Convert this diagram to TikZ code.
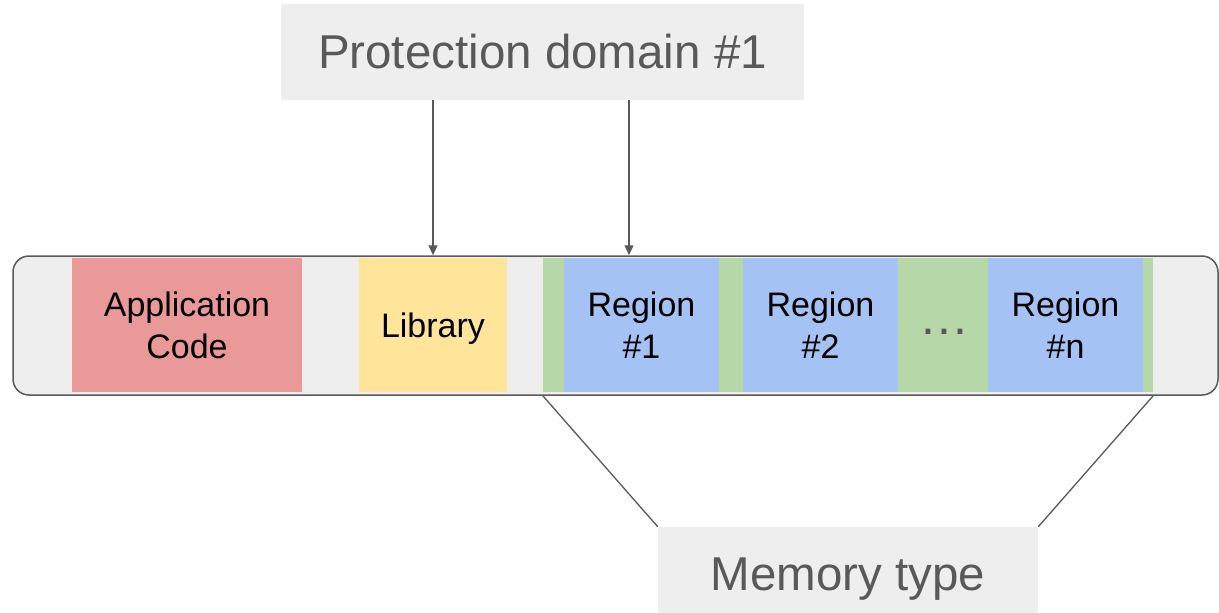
\documentclass[tikz,border=0pt]{standalone}
\usepackage{fontspec}
\setmainfont{Liberation Sans}
\usetikzlibrary{arrows.meta}
\definecolor{lgray}{HTML}{EEEEEE}
\definecolor{dgray}{HTML}{595959}
\definecolor{appred}{HTML}{EA9999}
\definecolor{libyellow}{HTML}{FFE599}
\definecolor{regblue}{HTML}{A4C2F4}
\definecolor{memgreen}{HTML}{B6D7A8}
\begin{document}
\begin{tikzpicture}[x=1pt,y=-1pt,
  block/.style={rectangle, inner sep=0pt, draw=none, align=center, minimum height=134pt,
    font=\fontsize{34}{42}\selectfont},
  lbl/.style={rectangle, fill=lgray, inner sep=0pt, text=dgray, font=\fontsize{47.5}{57}\selectfont},
  conn/.style={draw=dgray, line width=1.3pt},
  arr/.style={conn, -{Triangle[length=10pt,width=9pt]}},
  ]
\useasboundingbox (0,0) rectangle (1219,613);
% labels
\node[lbl, minimum width=523pt, minimum height=96pt] (pd) at (542.5,52) {Protection domain \#1};
\node[lbl, minimum width=380pt, minimum height=104pt] (mem) at (848,579) {Memory type};
% memory bar
\node[rectangle, fill=lgray, draw=dgray, line width=1.5pt, rounded corners=16pt,
  minimum width=1205pt, minimum height=139pt, inner sep=0pt] (bar) at (615.5,325.5) {};
% blocks
\node[block, fill=appred, minimum width=230pt] (app) at (187,325) {Application\\Code};
\node[block, fill=libyellow, minimum width=148pt, text depth=0pt] (lib) at (433,325) {Library};
\node[block, fill=memgreen, minimum width=610pt] (green) at (848,325) {};
\node[block, fill=regblue, minimum width=155pt] (r1) at (641.5,325) {Region\\\#1};
\node[block, fill=regblue, minimum width=155pt] (r2) at (820.5,325) {Region\\\#2};
\node[block, fill=regblue, minimum width=155pt] (rn) at (1065.5,325) {Region\\\#n};
\node[inner sep=0pt, text=dgray, font=\fontsize{50}{50}\selectfont] (dots) at (944,332)
  {.\hspace{2.1pt}.\hspace{2.1pt}.};
% arrows
\coordinate (a2x) at (629,0);
\draw[arr] (pd.south -| lib) -- (bar.north -| lib);
\draw[arr] (pd.south -| a2x) -- (bar.north -| a2x);
% memory type lines
\draw[conn] (bar.south -| green.west) -- (mem.north west);
\draw[conn] (bar.south -| green.east) -- (mem.north east);
\end{tikzpicture}
\end{document}
